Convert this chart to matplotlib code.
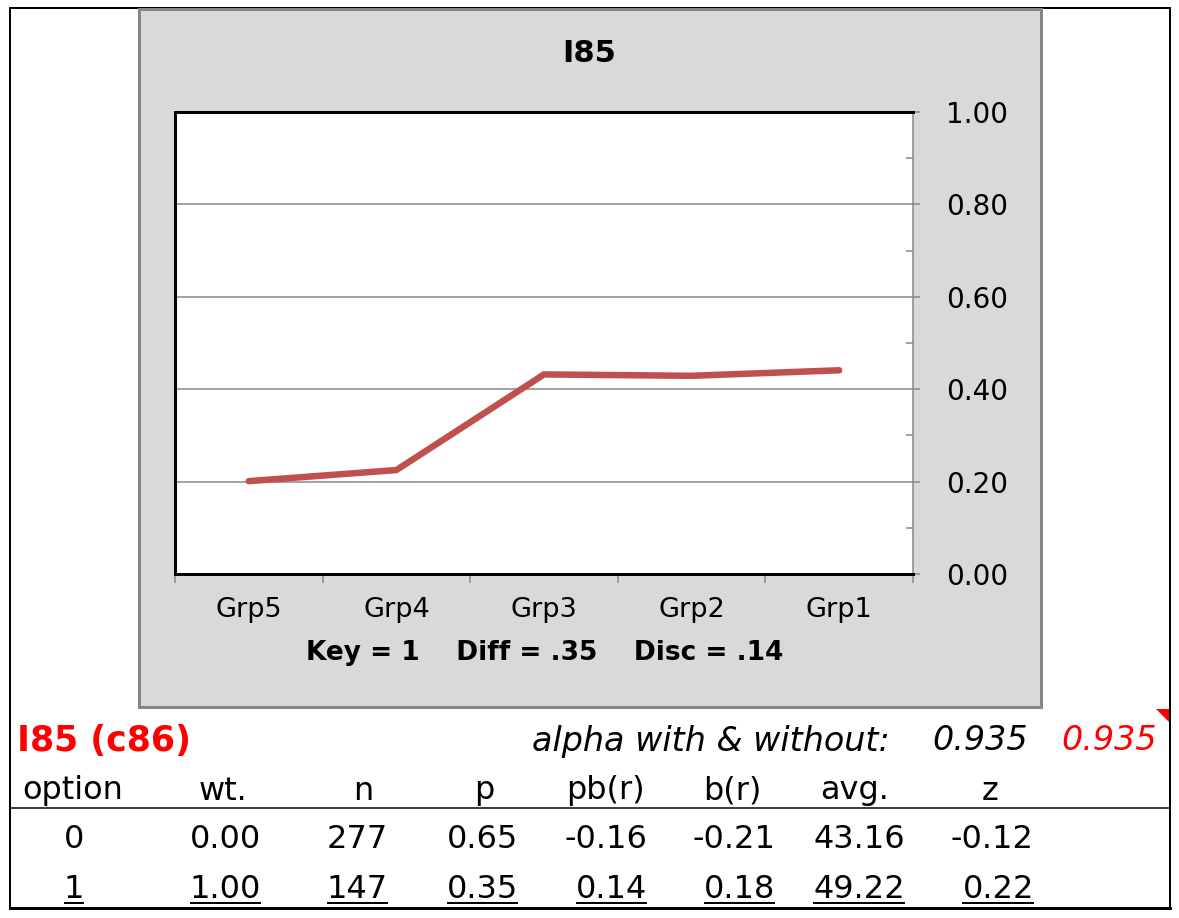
import matplotlib
matplotlib.use("Agg")
import matplotlib.pyplot as plt
from matplotlib.patches import Rectangle, Polygon
from matplotlib.lines import Line2D
from matplotlib.ticker import MultipleLocator, FixedLocator, NullFormatter

# ---------------- data ----------------
title = "I85"
categories = ["Grp5", "Grp4", "Grp3", "Grp2", "Grp1"]
values = [0.201, 0.225, 0.432, 0.429, 0.441]
y_ticks = [0.0, 0.2, 0.4, 0.6, 0.8, 1.0]
footer = "Key = 1    Diff = .35    Disc = .14"

item_label = "I85 (c86)"
alpha_label = "alpha with & without:"
alpha_with = "0.935"
alpha_without = "0.935"

headers = ["option", "wt.", "n", "p", "pb(r)", "b(r)", "avg.", "z"]
row0 = ["0", "0.00", "277", "0.65", "-0.16", "-0.21", "43.16", "-0.12"]
row1 = ["1", "1.00", "147", "0.35", "0.14", "0.18", "49.22", "0.22"]

# ---------------- layout ----------------
W, H = 1179, 918
fig = plt.figure(figsize=(W / 100, H / 100), dpi=100)
fig.patch.set_facecolor("white")
plt.rcParams["font.family"] = ["DejaVu Sans"]

def fx(x):
    return x / W

def fy(y):
    return 1 - y / H

PX = 0.72  # points per pixel at dpi 100

# outer border
fig.add_artist(Rectangle((fx(10), fy(908)), fx(1170) - fx(10), fy(8) - fy(908),
                         transform=fig.transFigure, facecolor="none",
                         edgecolor="black", lw=2 * PX, zorder=0))
fig.add_artist(Line2D([fx(10), fx(1170)], [fy(908), fy(908)],
                      transform=fig.transFigure, color="black", lw=3 * PX))
# gray chart panel
fig.add_artist(Rectangle((fx(139), fy(707)), fx(1041) - fx(139), fy(9) - fy(707),
                         transform=fig.transFigure, facecolor="#d9d9d9",
                         edgecolor="#868686", lw=3 * PX, zorder=0))

# plot area
ax = fig.add_axes([fx(175), fy(574), fx(913) - fx(175), fy(112) - fy(574)])
ax.set_facecolor("white")
x = list(range(len(categories)))
ax.plot(x, values, color="#c0504d", lw=6.5 * PX, solid_capstyle="round",
        solid_joinstyle="miter", zorder=3)
ax.set_xlim(-0.5, len(categories) - 0.5)
ax.set_ylim(0, 1)

for s in ["left", "top", "bottom"]:
    ax.spines[s].set_color("black")
    ax.spines[s].set_linewidth(3 * PX)
ax.spines["right"].set_color("#868686")
ax.spines["right"].set_linewidth(1.5 * PX)

ax.yaxis.tick_right()
ax.yaxis.set_major_locator(FixedLocator(y_ticks))
ax.yaxis.set_minor_locator(MultipleLocator(0.1))
ax.set_yticklabels([f"{v:.2f}" for v in y_ticks])
ax.tick_params(axis="y", which="major", direction="out", length=7 * PX,
               color="#868686", width=1.5 * PX, labelsize=20, pad=26 * PX,
               left=False, right=True, labelcolor="black")
ax.tick_params(axis="y", which="minor", direction="in", length=7 * PX,
               color="#868686", width=1.5 * PX, left=False, right=True)
ax.grid(axis="y", which="major", color="#868686", lw=1.5 * PX, zorder=1)
ax.set_axisbelow(True)

bounds = [i - 0.5 for i in range(len(categories) + 1)]
ax.xaxis.set_major_locator(FixedLocator(bounds))
ax.xaxis.set_major_formatter(NullFormatter())
ax.xaxis.set_minor_locator(FixedLocator(x))
ax.set_xticklabels(categories, minor=True)
ax.tick_params(axis="x", which="major", direction="out", length=9 * PX,
               color="#868686", width=1.5 * PX)
ax.tick_params(axis="x", which="minor", length=0, labelsize=19.5, pad=23 * PX)

# title and footer
fig.text(fx(589), fy(53), title, ha="center", va="center", fontsize=22,
         fontweight="bold")
fig.text(fx(545), fy(653), footer, ha="center", va="center", fontsize=19,
         fontweight="bold")

# ---------------- table area ----------------
fig.text(fx(17), fy(741), item_label, ha="left", va="center", fontsize=25,
         fontweight="bold", color="red")
fig.text(fx(890), fy(741), alpha_label, ha="right", va="center", fontsize=24,
         style="italic", color="black")
fig.text(fx(1028), fy(741), alpha_with, ha="right", va="center", fontsize=24,
         style="italic", color="black")
fig.text(fx(1157), fy(741), alpha_without, ha="right", va="center", fontsize=24,
         style="italic", color="red")
fig.add_artist(Polygon([[fx(1156), fy(709)], [fx(1169), fy(709)], [fx(1169), fy(722)]],
                       closed=True, transform=fig.transFigure, facecolor="red",
                       edgecolor="none"))

header_x = [73, 223, 363, 484, 605, 732, 855, 990]
for hx, htxt in zip(header_x, headers):
    fig.text(fx(hx), fy(791), htxt, ha="center", va="center", fontsize=23)

fig.add_artist(Line2D([fx(10), fx(1170)], [fy(808), fy(808)],
                      transform=fig.transFigure, color="black", lw=1.5 * PX))

col_right = [None, 261, 388, 518, 647, 775, 905, 1034]
row_y = [840, 889]
row1_texts = []
for ri, row in enumerate([row0, row1]):
    for ci, val in enumerate(row):
        if ci == 0:
            t = fig.text(fx(74), fy(row_y[ri]), val, ha="center", va="center",
                         fontsize=23)
        else:
            t = fig.text(fx(col_right[ci]), fy(row_y[ri]), val, ha="right",
                         va="center", fontsize=23)
        if ri == 1:
            row1_texts.append(t)

# underline the key row
fig.canvas.draw()
renderer = fig.canvas.get_renderer()
for t in row1_texts:
    bb = t.get_window_extent(renderer)
    yline = (H - 903) / H
    fig.add_artist(Line2D([bb.x0 / W + 1 / W, bb.x1 / W - 1 / W], [yline, yline],
                          transform=fig.transFigure, color="black", lw=2 * PX))

fig.savefig("out.png", dpi=100, facecolor="white")
